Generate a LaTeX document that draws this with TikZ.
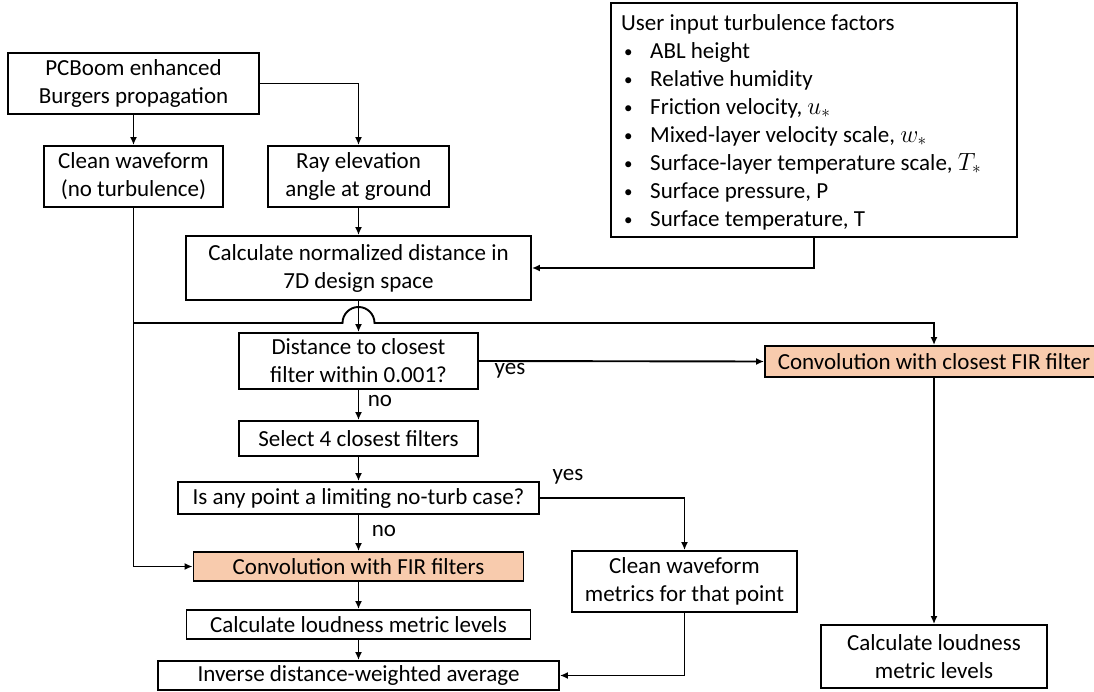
\documentclass[tikz,border=0pt]{standalone}
\usepackage{fontspec}
\setmainfont{Carlito}
\usetikzlibrary{arrows.meta}
\definecolor{boxorange}{HTML}{F8CBAD}
\newcommand{\bul}{\makebox[29pt][l]{\hspace{3pt}\raisebox{1pt}{\fontsize{17}{17}\selectfont•}}}
\begin{document}
\begin{tikzpicture}[x=1pt,y=-1pt,
  every node/.style={font=\fontsize{23}{28}\selectfont},
  box/.style={draw=black, line width=1.9pt, align=center, inner sep=0pt},
  obox/.style={box, fill=boxorange},
  conn/.style={line width=1.9pt, -{Latex[length=8pt,width=7pt]}},
  lbl/.style={inner sep=0pt}]
\useasboundingbox (0,0) rectangle (1094,692);
% nodes
\node[box, minimum width=251pt, minimum height=61pt] (pcb) at (133.5,83.5) {PCBoom enhanced\\Burgers propagation};
\node[box, minimum width=179pt, minimum height=61pt] (clean) at (133.5,176.5) {Clean waveform\\(no turbulence)};
\node[box, minimum width=181pt, minimum height=61pt] (ray) at (358.5,176.5) {Ray elevation\\angle at ground};
\node[box, minimum width=345pt, minimum height=64pt] (calc) at (358.5,268) {Calculate normalized distance in\\7D design space};
\node[box, minimum width=406pt, minimum height=234pt] (user) at (814,120) {};
\node[lbl, anchor=north west, align=left] (usertxt) at (621,14) {User input turbulence factors\\
\bul ABL height\\
\bul Relative humidity\\
\bul Friction velocity, $u_*$\\
\bul Mixed-layer velocity scale, $w_*$\\
\bul Surface-layer temperature scale, $T_*$\\
\bul Surface pressure, P\\
\bul Surface temperature, T};
\node[box, minimum width=239pt, minimum height=56pt] (dist) at (358.5,361) {Distance to closest\\filter within 0.001?};
\node[box, minimum width=239pt, minimum height=35pt] (sel) at (358.5,438.5) {Select 4 closest filters};
\node[box, minimum width=361pt, minimum height=32pt] (isany) at (358.5,498) {Is any point a limiting no-turb case?};
\node[obox, minimum width=330pt, minimum height=29pt] (convfir) at (358.5,566.5) {Convolution with FIR filters};
\node[box, minimum width=344pt, minimum height=29pt] (loud1) at (358.5,624.5) {Calculate loudness metric levels};
\node[box, minimum width=401pt, minimum height=29pt] (inv) at (358.5,675.5) {Inverse distance-weighted average};
\node[obox, minimum width=338pt, minimum height=31pt] (convclose) at (934,361.5) {Convolution with closest FIR filter};
\node[box, minimum width=225pt, minimum height=61pt] (metrics) at (684.5,581.5) {Clean waveform\\metrics for that point};
\node[box, minimum width=226pt, minimum height=63pt] (loud2) at (934,656.5) {Calculate loudness\\metric levels};
% labels
\node[lbl] (yes1) at (510,371) {yes};
\node[lbl] (no1) at (380,401) {no};
\node[lbl] (yes2) at (568,477) {yes};
\node[lbl] (no2) at (384,531) {no};
% connectors
\draw[conn] (pcb.south) -- (clean.north);
\draw[conn] (pcb.east) -| (ray.north);
\draw[conn] (ray.south) -- (calc.north);
\draw[conn] (user.south) |- (calc.east);
\coordinate (junc) at (133.5,323);
\coordinate (hopstart) at (342.5,323);
\draw[conn] (clean.south) |- (convfir.west);
\draw[conn] (junc) -- (hopstart) arc[start angle=180, end angle=0, radius=16pt] -| (convclose.north);
\draw[conn] (calc.south) -- (dist.north);
\draw[conn] (dist.east) -- (convclose.west);
\draw[conn] (dist.south) -- (sel.north);
\draw[conn] (sel.south) -- (isany.north);
\draw[conn] (isany.south) -- (convfir.north);
\draw[conn] (isany.east) -| (metrics.north);
\draw[conn] (convfir.south) -- (loud1.north);
\draw[conn] (loud1.south) -- (inv.north);
\draw[conn] (metrics.south) |- (inv.east);
\draw[conn] (convclose.south) -- (loud2.north);
\end{tikzpicture}
\end{document}
